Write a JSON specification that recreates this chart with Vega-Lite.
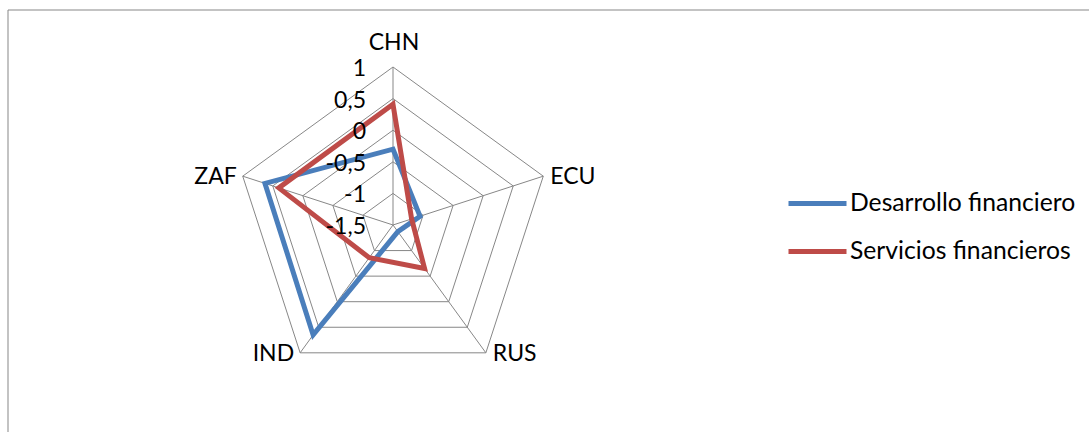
{
  "$schema": "https://vega.github.io/schema/vega-lite/v6.json",
  "width": 1081,
  "height": 422,
  "padding": {"left": 8, "top": 10, "right": 0, "bottom": 0},
  "autosize": {"type": "none"},
  "background": "white",
  "config": {"view": {"stroke": null}, "font": "Lato"},
  "datasets": {
    "series": [
      {"country": "CHN", "serie": "Desarrollo financiero", "value": -0.30},
      {"country": "ECU", "serie": "Desarrollo financiero", "value": -1.05},
      {"country": "RUS", "serie": "Desarrollo financiero", "value": -1.37},
      {"country": "IND", "serie": "Desarrollo financiero", "value": 0.65},
      {"country": "ZAF", "serie": "Desarrollo financiero", "value": 0.63},
      {"country": "CHN", "serie": "Servicios financieros", "value": 0.41},
      {"country": "ECU", "serie": "Servicios financieros", "value": -1.19},
      {"country": "RUS", "serie": "Servicios financieros", "value": -0.65},
      {"country": "IND", "serie": "Servicios financieros", "value": -0.86},
      {"country": "ZAF", "serie": "Servicios financieros", "value": 0.40}
    ],
    "grid": [
      {"level": 1, "country": ["CHN", "ECU", "RUS", "IND", "ZAF"]},
      {"level": 0.5, "country": ["CHN", "ECU", "RUS", "IND", "ZAF"]},
      {"level": 0, "country": ["CHN", "ECU", "RUS", "IND", "ZAF"]},
      {"level": -0.5, "country": ["CHN", "ECU", "RUS", "IND", "ZAF"]},
      {"level": -1, "country": ["CHN", "ECU", "RUS", "IND", "ZAF"]}
    ],
    "ticks": [
      {"level": 1, "label": "1"},
      {"level": 0.5, "label": "0,5"},
      {"level": 0, "label": "0"},
      {"level": -0.5, "label": "-0,5"},
      {"level": -1, "label": "-1"},
      {"level": -1.5, "label": "-1,5"}
    ],
    "axes": [
      {"country": "CHN"},
      {"country": "ECU"},
      {"country": "RUS"},
      {"country": "IND"},
      {"country": "ZAF"}
    ]
  },
  "layer": [
    {
      "data": {"name": "grid"},
      "transform": [
        {"flatten": ["country"]},
        {"calculate": "indexof(['CHN','ECU','RUS','IND','ZAF'], datum.country)", "as": "idx"},
        {"calculate": "(datum.level + 1.5) / 2.5", "as": "r"},
        {"calculate": "datum.r * sin(datum.idx * 2 * PI / 5)", "as": "px"},
        {"calculate": "datum.r * cos(datum.idx * 2 * PI / 5)", "as": "py"}
      ],
      "mark": {"type": "line", "interpolate": "linear-closed", "stroke": "#878787", "strokeWidth": 1},
      "encoding": {
        "x": {"field": "px", "type": "quantitative", "axis": null, "scale": {"domain": [-2.43671, 4.40506], "nice": false, "zero": false}},
        "y": {"field": "py", "type": "quantitative", "axis": null, "scale": {"domain": [-1.31013, 1.36076], "nice": false, "zero": false}},
        "detail": {"field": "level", "type": "nominal"},
        "order": {"field": "idx", "type": "quantitative"}
      }
    },
    {
      "data": {"name": "axes"},
      "transform": [
        {"calculate": "indexof(['CHN','ECU','RUS','IND','ZAF'], datum.country)", "as": "idx"},
        {"calculate": "0", "as": "cx"},
        {"calculate": "sin(datum.idx * 2 * PI / 5)", "as": "px"},
        {"calculate": "cos(datum.idx * 2 * PI / 5)", "as": "py"}
      ],
      "mark": {"type": "rule", "color": "#878787", "strokeWidth": 1},
      "encoding": {
        "x": {"field": "cx", "type": "quantitative"},
        "y": {"field": "cx", "type": "quantitative"},
        "x2": {"field": "px"},
        "y2": {"field": "py"}
      }
    },
    {
      "data": {"name": "axes"},
      "transform": [{"filter": "datum.country == 'CHN'"}],
      "mark": {"type": "rule", "color": "#878787", "strokeWidth": 1},
      "encoding": {"y": {"datum": 1.36076, "type": "quantitative"}}
    },
    {
      "data": {"name": "axes"},
      "transform": [{"filter": "datum.country == 'CHN'"}],
      "mark": {"type": "rule", "color": "#878787", "strokeWidth": 1},
      "encoding": {"x": {"datum": -2.43671, "type": "quantitative"}}
    },
    {
      "data": {"name": "series"},
      "transform": [
        {"calculate": "indexof(['CHN','ECU','RUS','IND','ZAF'], datum.country)", "as": "idx"},
        {"calculate": "(datum.value + 1.5) / 2.5", "as": "r"},
        {"calculate": "datum.r * sin(datum.idx * 2 * PI / 5)", "as": "px"},
        {"calculate": "datum.r * cos(datum.idx * 2 * PI / 5)", "as": "py"}
      ],
      "mark": {"type": "line", "interpolate": "linear-closed", "strokeWidth": 5},
      "encoding": {
        "x": {"field": "px", "type": "quantitative"},
        "y": {"field": "py", "type": "quantitative"},
        "order": {"field": "idx", "type": "quantitative"},
        "color": {
          "field": "serie",
          "type": "nominal",
          "scale": {"domain": ["Desarrollo financiero", "Servicios financieros"], "range": ["#4A7EBB", "#BE4B48"]},
          "legend": {
            "orient": "none",
            "legendX": 778,
            "legendY": 162,
            "title": null,
            "symbolType": "stroke",
            "symbolSize": 3364,
            "symbolStrokeWidth": 5,
            "labelFont": "Lato",
            "labelFontSize": 24.7,
            "labelColor": "#000000",
            "labelOffset": 1,
            "labelLimit": 400,
            "rowPadding": 4,
            "padding": 0,
            "offset": 0
          }
        }
      }
    },
    {
      "data": {"name": "ticks"},
      "transform": [
        {"calculate": "(datum.level + 1.5) / 2.5", "as": "r"},
        {"calculate": "0", "as": "cx"}
      ],
      "mark": {"type": "text", "align": "right", "baseline": "middle", "dx": -27, "dy": 2, "fontSize": 23, "font": "Lato", "color": "#000000"},
      "encoding": {
        "x": {"field": "cx", "type": "quantitative"},
        "y": {"field": "r", "type": "quantitative"},
        "text": {"field": "label", "type": "nominal"}
      }
    },
    {
      "data": {"name": "axes"},
      "transform": [
        {"calculate": "indexof(['CHN','ECU','RUS','IND','ZAF'], datum.country)", "as": "idx"},
        {"calculate": "sin(datum.idx * 2 * PI / 5)", "as": "px"},
        {"calculate": "cos(datum.idx * 2 * PI / 5)", "as": "py"},
        {"filter": "datum.country == 'CHN'"}
      ],
      "mark": {"type": "text", "align": "center", "baseline": "middle", "dx": 1, "dy": -24, "fontSize": 23, "font": "Lato", "color": "#000000"},
      "encoding": {
        "x": {"field": "px", "type": "quantitative"},
        "y": {"field": "py", "type": "quantitative"},
        "text": {"field": "country", "type": "nominal"}
      }
    },
    {
      "data": {"name": "axes"},
      "transform": [
        {"filter": "datum.country == 'ECU' || datum.country == 'RUS'"},
        {"calculate": "indexof(['CHN','ECU','RUS','IND','ZAF'], datum.country)", "as": "idx"},
        {"calculate": "sin(datum.idx * 2 * PI / 5)", "as": "px"},
        {"calculate": "cos(datum.idx * 2 * PI / 5)", "as": "py"}
      ],
      "mark": {"type": "text", "align": "left", "baseline": "top", "dx": 7, "dy": -10, "fontSize": 23, "font": "Lato", "color": "#000000"},
      "encoding": {
        "x": {"field": "px", "type": "quantitative"},
        "y": {"field": "py", "type": "quantitative"},
        "text": {"field": "country", "type": "nominal"}
      }
    },
    {
      "data": {"name": "axes"},
      "transform": [
        {"filter": "datum.country == 'IND' || datum.country == 'ZAF'"},
        {"calculate": "indexof(['CHN','ECU','RUS','IND','ZAF'], datum.country)", "as": "idx"},
        {"calculate": "sin(datum.idx * 2 * PI / 5)", "as": "px"},
        {"calculate": "cos(datum.idx * 2 * PI / 5)", "as": "py"}
      ],
      "mark": {"type": "text", "align": "right", "baseline": "top", "dx": -6, "dy": -10, "fontSize": 23, "font": "Lato", "color": "#000000"},
      "encoding": {
        "x": {"field": "px", "type": "quantitative"},
        "y": {"field": "py", "type": "quantitative"},
        "text": {"field": "country", "type": "nominal"}
      }
    }
  ]
}
